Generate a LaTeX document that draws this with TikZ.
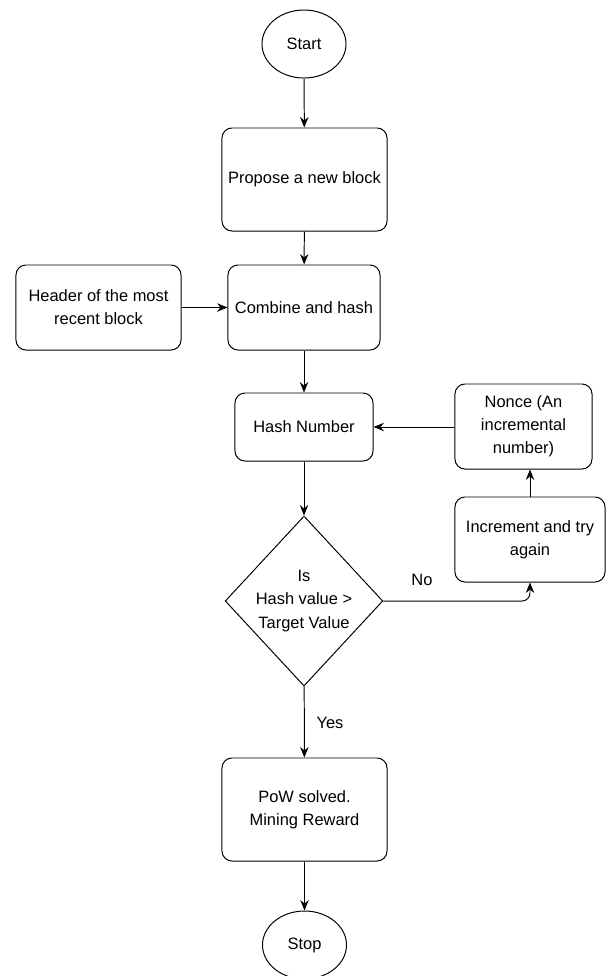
\documentclass[tikz,border=0pt]{standalone}
\usepackage{fontspec}
\setmainfont{Liberation Sans}
\usetikzlibrary{shapes.geometric,arrows.meta}
\tikzset{
  every node/.style={font=\fontsize{11.7}{16.5}\selectfont},
  terminal/.style={draw, ellipse, line width=0.7pt, minimum width=2.1cm, minimum height=1.7cm, inner sep=0pt},
  process/.style={draw, rounded corners=2.5mm, line width=0.7pt, align=center, inner sep=2pt},
  decision/.style={draw, diamond, line width=0.7pt, align=center, inner sep=0pt, minimum width=3.8cm, minimum height=4.25cm},
  flow/.style={->, line width=0.7pt, >={Stealth[length=2.6mm,width=2.1mm]}}
}
\begin{document}
\begin{tikzpicture}[x=0.025cm,y=-0.025cm]
\useasboundingbox (0,0) rectangle (606,976);
\node[terminal] (start) at (304,44) {Start};
\node[process, minimum width=4.125cm, minimum height=2.575cm] (propose) at (304.5,179.5) {Propose a new block};
\node[process, minimum width=3.8cm, minimum height=2.125cm] (combine) at (304,307.5) {Combine and hash};
\node[process, minimum width=4.125cm, minimum height=2.125cm] (header) at (98.5,307.5) {Header of the most\\recent block};
\node[process, minimum width=3.45cm, minimum height=1.7cm] (hashnum) at (304,427) {Hash Number};
\node[process, minimum width=3.425cm, minimum height=2.125cm] (nonce) at (523.5,426.5) {Nonce (An\\incremental\\number)};
\node[process, minimum width=3.75cm, minimum height=2.125cm] (incr) at (530,539.5) {Increment and try\\again};
\node[decision] (check) at (304,601) {Is\\Hash value >\\Target Value};
\node[process, minimum width=4.125cm, minimum height=2.575cm] (pow) at (304.5,809.5) {PoW solved.\\Mining Reward};
\node[terminal] (stop) at (304.5,945) {Stop};
\node (no) at (422,580) {No};
\node (yes) at (330,723) {Yes};
\draw[flow] (start) -- (propose);
\draw[flow] (propose) -- (combine);
\draw[flow] (header) -- (combine);
\draw[flow] (combine) -- (hashnum);
\draw[flow] (hashnum) -- (check);
\draw[flow] (nonce.west |- hashnum.east) -- (hashnum.east);
\draw[flow] (incr.north) -- (incr.north |- nonce.south);
\draw[flow, rounded corners=2mm] (check.east) -| (incr.south);
\draw[flow] (check) -- (pow);
\draw[flow] (pow) -- (stop);
\end{tikzpicture}
\end{document}
